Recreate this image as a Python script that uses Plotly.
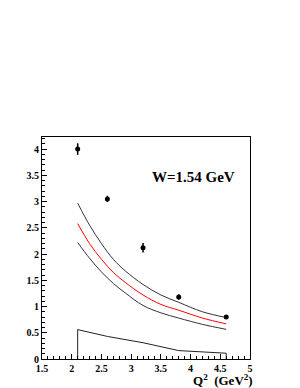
import plotly.graph_objects as go

# Data points
q2_data = [2.1, 2.6, 3.2, 3.8, 4.6]
y_data = [4.00, 3.05, 2.12, 1.18, 0.80]
y_err = [0.11, 0.06, 0.09, 0.05, 0.04]

# Model curves
q2_curve = [2.1, 2.3, 2.5, 2.7, 2.9, 3.2, 3.5, 3.8, 4.2, 4.6]
y_upper = [2.97, 2.55, 2.20, 1.90, 1.68, 1.42, 1.22, 1.08, 0.90, 0.79]
y_central = [2.58, 2.20, 1.90, 1.65, 1.46, 1.22, 1.04, 0.93, 0.78, 0.67]
y_lower = [2.22, 1.92, 1.66, 1.44, 1.26, 1.02, 0.88, 0.78, 0.66, 0.565]

# Systematic error band
q2_sys = [2.1, 2.1, 2.6, 3.2, 3.8, 4.6, 4.6]
y_sys = [0.0, 0.56, 0.43, 0.31, 0.16, 0.11, 0.0]

fig = go.Figure()
fig.add_trace(go.Scatter(x=q2_sys, y=y_sys, mode="lines",
                         line=dict(color="#222", width=1), showlegend=False))
fig.add_trace(go.Scatter(x=q2_curve, y=y_upper, mode="lines", line_shape="spline",
                         line=dict(color="#333", width=1), showlegend=False))
fig.add_trace(go.Scatter(x=q2_curve, y=y_lower, mode="lines", line_shape="spline",
                         line=dict(color="#333", width=1), showlegend=False))
fig.add_trace(go.Scatter(x=q2_curve, y=y_central, mode="lines", line_shape="spline",
                         line=dict(color="red", width=1), showlegend=False))
fig.add_trace(go.Scatter(x=q2_data, y=y_data, mode="markers",
                         marker=dict(color="black", size=5),
                         error_y=dict(type="data", array=y_err, width=0, thickness=1.5, color="black"),
                         showlegend=False))

tickfont = dict(family="Liberation Serif", size=10, color="black", weight="bold")
fig.update_layout(
    width=292, height=380,
    margin=dict(l=34, r=50, t=129, b=29),
    plot_bgcolor="white", paper_bgcolor="white",
    xaxis=dict(range=[1.5, 5], dtick=0.5, tick0=1.5, showgrid=False, zeroline=False,
               showline=True, linecolor="black", linewidth=1, mirror=True, automargin=False,
               ticks="inside", ticklen=5, tickcolor="black", tickfont=tickfont,
               minor=dict(dtick=0.1, ticks="inside", ticklen=3, tickcolor="black")),
    yaxis=dict(range=[0, 4.23], dtick=0.5, tick0=0, showgrid=False, zeroline=False,
               showline=True, linecolor="black", linewidth=1, mirror=True, automargin=False,
               ticks="inside", ticklen=5, tickcolor="black", tickfont=tickfont,
               minor=dict(dtick=0.1, ticks="inside", ticklen=3, tickcolor="black")),
    annotations=[
        dict(text="<b>W=1.54 GeV</b>", xref="paper", yref="paper", x=0.52, y=0.82,
             xanchor="left", yanchor="middle", showarrow=False,
             font=dict(family="Liberation Serif", size=15, color="black")),
        dict(text="<b>Q<sup>2</sup>  (GeV<sup>2</sup>)</b>", xref="paper", yref="paper",
             x=1.024, y=-0.095, xanchor="right", yanchor="middle", showarrow=False,
             font=dict(family="Liberation Serif", size=13, color="black")),
    ],
)
fig.write_html("out.html")
